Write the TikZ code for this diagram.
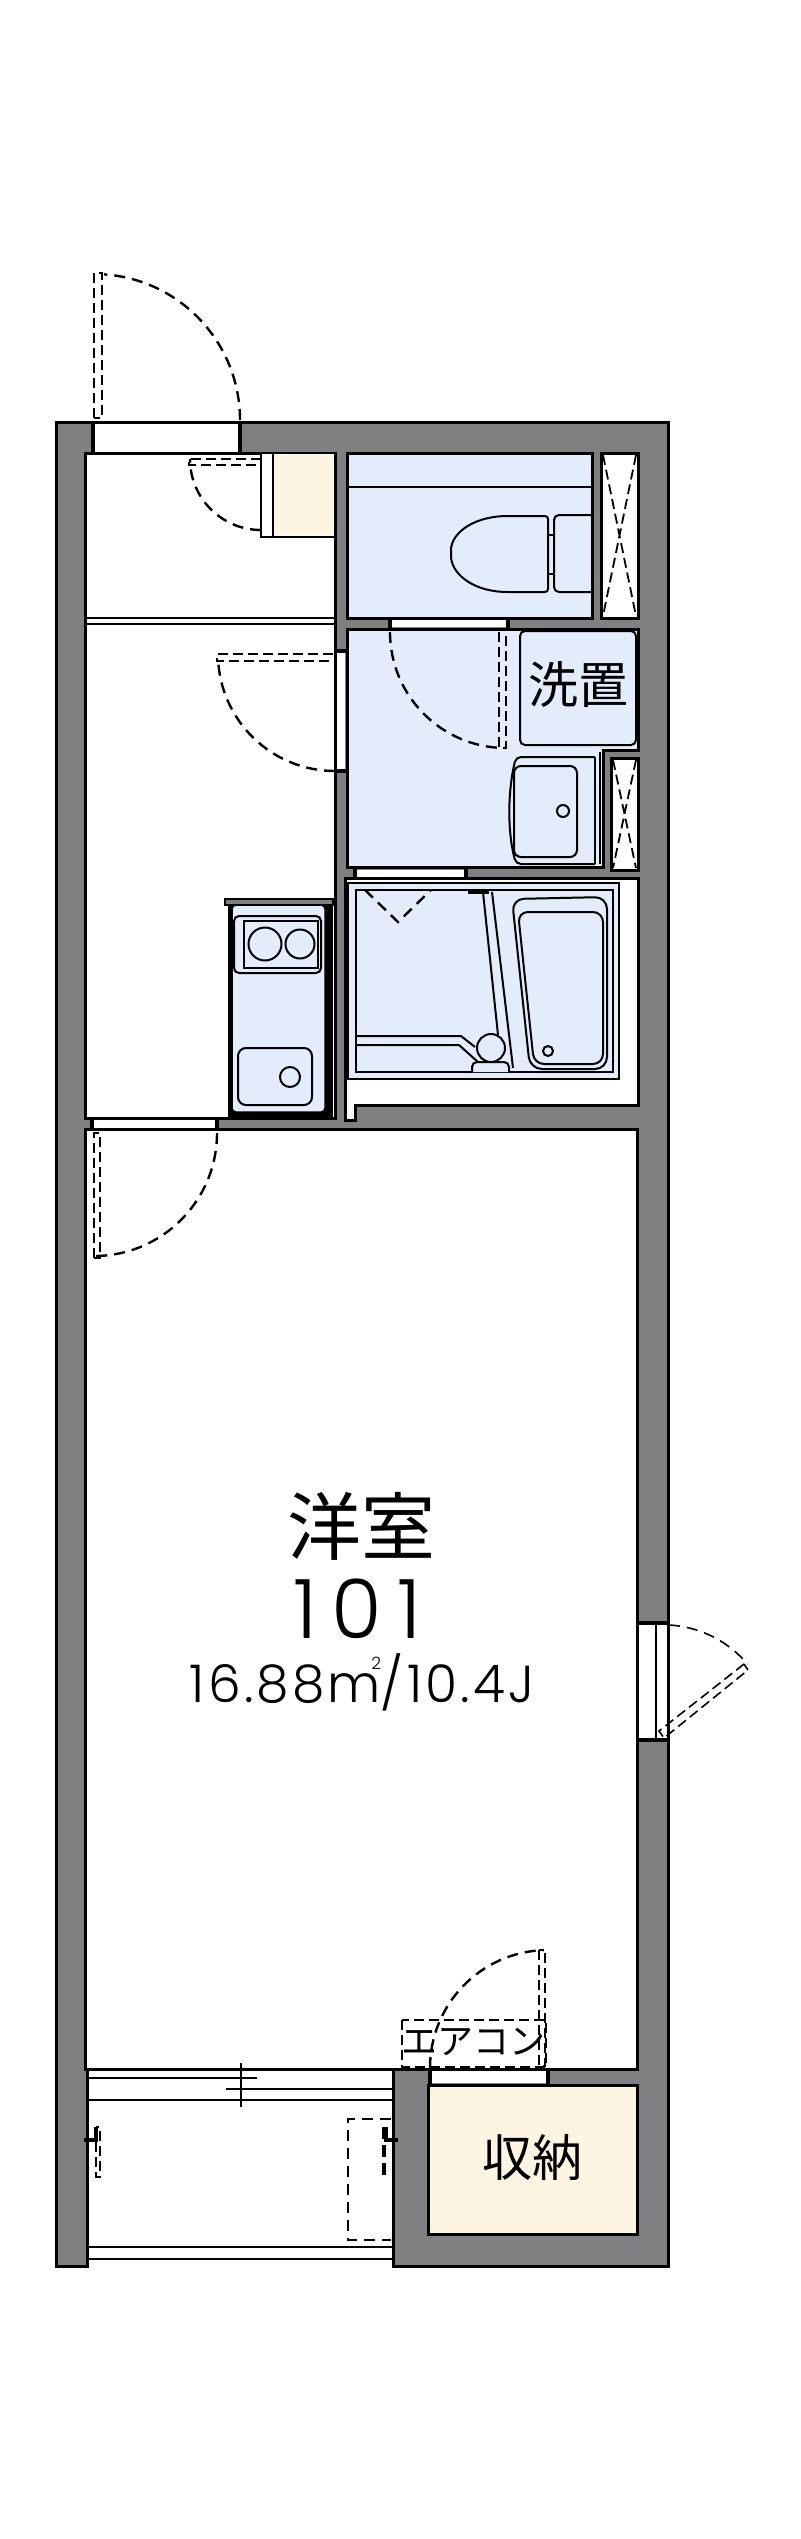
\documentclass[tikz,border=0pt]{standalone}
\usepackage{fontspec}
\setmainfont{Poppins Light}
\newfontfamily\cjkfont{Noto Sans CJK JP}
\definecolor{wallgray}{HTML}{808083}
\definecolor{wetblue}{HTML}{E2ECFB}
\definecolor{storecream}{HTML}{FEF4E2}
\tikzset{
        wall/.style={fill=wallgray, draw=black, line width=3pt, line join=miter},
        room/.style={fill=white, draw=black, line width=3pt},
        wetroom/.style={fill=wetblue, draw=black, line width=3pt},
        store/.style={fill=storecream, draw=black, line width=3pt},
        opening/.style={fill=white, draw=none},
        thin/.style={draw=black, line width=2pt},
        fixture/.style={draw=black, line width=2pt, rounded corners=5pt},
        swing/.style={draw=black, line width=2.4pt, dash pattern=on 11pt off 7pt},
        leaf/.style={draw=black, line width=2.2pt, dash pattern=on 10pt off 5pt},
        jamb/.style={draw=black, line width=4pt},
        label/.style={inner sep=0pt, font=\cjkfont}
          }
\begin{document}
\begin{tikzpicture}[x=1pt,y=-1pt]
        \useasboundingbox (0,0) rectangle (800,2539);
        % outer wall
        \draw[wall] (56,422) -- (668,422) -- (668,2266) -- (393,2266) -- (393,2069) -- (87,2069) -- (87,2266) -- (56,2266) -- cycle;
        \fill[white] (89,2071) rectangle (391,2266);
        \draw[thin] (87,2247) -- (393,2247) (87,2259) -- (393,2259) (89,2100) -- (393,2100);
        % rooms
        \draw[room] (85,453) rectangle (335,1118);
        \draw[room] (85,1129) rectangle (637,2069);
        \draw[wetroom] (347,453) rectangle (592,618);
        \draw[room] (601,453) rectangle (638,618);
        \draw[wetroom] (347,629) -- (638,629) -- (638,750) -- (603,750) -- (603,867) -- (347,867) -- cycle;
        \draw[room] (611,758) rectangle (638,870);
        \draw[room] (345,878) -- (638,878) -- (638,1105) -- (355,1105) -- (355,1120) -- (345,1120) -- cycle;
        \draw[store] (428,2085) rectangle (637,2234);
        % hall
        \draw[thin] (85,618) -- (335,618) (85,624) -- (335,624);
        \draw[room, line width=2.5pt] (261,453) rectangle (335,537);
        \fill[storecream] (273,455) rectangle (333,535);
        \draw[thin] (273,453) -- (273,537);
        % openings
        \fill[opening] (94,424) rectangle (240,452);
        \draw[thin] (94,453) -- (240,453);
        \draw[jamb] (93,422) -- (93,453) (240,422) -- (240,453);
        \fill[opening] (92,1120) rectangle (217,1128);
        \draw[jamb] (92,1118) -- (92,1129) (217,1118) -- (217,1129);
        \draw[thin] (92,1118) -- (217,1118) (92,1129) -- (217,1129);
        \fill[opening] (337,653) rectangle (345,770);
        \draw[jamb] (335,651) -- (347,651) (335,771) -- (347,771);
        \fill[opening] (390,620) rectangle (508,627);
        \draw[jamb] (390,618) -- (390,630) (508,618) -- (508,630);
        \fill[opening] (356,870) rectangle (466,877);
        \draw[jamb] (466,867) -- (466,878) (355,867) -- (355,878);
        \fill[opening] (430,2071) rectangle (548,2083);
        \draw[thin] (430,2085) -- (548,2085);
        \draw[jamb] (430,2069) -- (430,2085) (548,2069) -- (548,2085);
        \fill[opening] (639,1625) rectangle (667,1740);
        \draw[thin] (656,1625) -- (656,1740) (668,1625) -- (668,1740);
        \draw[jamb] (636,1623) -- (670,1623) (636,1740) -- (670,1740);
        % toilet
        \draw[thin] (347,487) -- (592,487);
        \draw[thin, rounded corners=3pt] (548,516) -- (505,516) .. controls (470,518) and (451,535) .. (451,553) .. controls (451,572) and (470,590) .. (505,592) -- (548,592) -- cycle;
        \draw[fixture] (592,515) -- (554,515) -- (554,592) -- (592,592);
        \draw[thin] (548,535) -- (554,535) (548,574) -- (554,574);
        % ducts
        \foreach \xa/\xb/\ya/\yb in {603/636/455/616,613/636/760/868}{
          \draw[swing, line width=1.8pt, dash pattern=on 10pt off 5pt] (\xa,\ya) -- (\xb,\yb) (\xb,\ya) -- (\xa,\yb);
        }
        % washroom
        \draw[fixture] (520,631) -- (636,631) -- (636,745) -- (520,745) -- cycle;
        \draw[fixture] (595,757) -- (516,757) .. controls (508,790) and (507,830) .. (516,864) -- (595,864);
        \draw[thin] (595,757) -- (595,864) (600,752) -- (600,864);
        \draw[fixture, rounded corners=7pt] (514,766) -- (577,766) -- (577,857) -- (514,857) -- cycle;
        \draw[thin] (563,811) circle (6);
        % unit bath
        \draw[wetroom, line width=2.5pt] (348,883) rectangle (619,1079);
        \draw[thin, line width=2.5pt] (356,890) rectangle (613,1072);
        \draw[swing] (365,890) -- (398,922) -- (431,890);
        \draw[jamb] (468,892) -- (489,892);
        \draw[thin] (483,892) -- (498,1035) (492,892) -- (513,1068);
        \draw[thin] (356,1036) -- (461,1036) -- (475,1047) (356,1045) -- (459,1045) -- (478,1062);
        \draw[thin, fill=wetblue] (491,1048) circle (14);
        \draw[fixture, fill=wetblue] (472,1072) -- (472,1062) -- (509,1062) -- (509,1072);
        \draw[fixture, rounded corners=12pt] (512,899) -- (607,897) -- (607,1069) -- (530,1069) -- cycle;
        \draw[fixture, rounded corners=10pt] (518,912) -- (603,912) -- (603,1064) -- (534,1064) -- cycle;
        \draw[thin] (548,1051) circle (5);
        % kitchen
        \draw[draw=black, fill=wallgray, line width=1.5pt] (225,899) rectangle (333,905);
        \fill[black] (228,905) rectangle (333,1117);
        \draw[fill=wetblue, line width=1.5pt, rounded corners=4pt] (232,905) rectangle (325,1112);
        \draw[fixture, fill=wetblue] (234,916) rectangle (321,973);
        \draw[thin] (244,921) rectangle (318,968);
        \draw[thin] (265,944) circle (16.5) (300,944) circle (14.5);
        \draw[fixture, rounded corners=8pt] (238,1048) rectangle (312,1105);
        \draw[thin] (290,1077) circle (10);
        % doors
        \draw[swing] (240,420) arc[start angle=0, end angle=-86, radius=146];
        \draw[leaf] (94,418) -- (94,273) -- (102,273) -- (102,418) -- cycle;
        \draw[swing] (261,530) arc[start angle=90, end angle=180, radius=71];
        \draw[leaf] (261,459) -- (189,459) -- (189,465) -- (261,465);
        \draw[swing] (335,771) arc[start angle=90, end angle=178, radius=117];
        \draw[leaf] (333,654) -- (217,654) -- (217,661) -- (333,661);
        \draw[swing] (390,632) arc[start angle=180, end angle=90, radius=116];
        \draw[leaf] (499,632) -- (499,748) -- (506,748) -- (506,632);
        \draw[swing] (217,1133) arc[start angle=0, end angle=90, radius=123];
        \draw[leaf] (94,1258) -- (94,1133) -- (100,1133) -- (100,1258) -- cycle;
        \draw[swing, line width=1.6pt] (669,1625) arc[start angle=-87, end angle=-40, radius=110];
        \draw[leaf, line width=1.6pt] (744,1664) -- (659,1731) -- (664,1738) -- (748,1670) -- cycle;
        \draw[swing] (430,2068) arc[start angle=180, end angle=268, radius=118];
        \draw[leaf] (539,1950) rectangle (545,2066);
        \draw[leaf, line width=1.8pt] (402,2020) rectangle (546,2067);
        % balcony
        \draw[thin] (89,2078) -- (257,2078) (226,2089) -- (393,2089);
        \draw[thin] (241,2063) -- (241,2107);
        \draw[jamb] (84,2140) -- (96,2140) -- (96,2127);
        \draw[leaf] (96,2127) rectangle (100,2177);
        \draw[swing] (391,2119) -- (348,2119) -- (348,2240) -- (391,2240);
        \draw[jamb, dash pattern=on 12pt off 6pt] (384,2127) -- (384,2177);
        \draw[jamb] (398,2140) -- (386,2140) -- (386,2127);
        % labels
        \node[label, font=\cjkfont\fontsize{50}{50}\selectfont] (wash) at (578,685) {洗置};
        \node[label, font=\cjkfont\fontsize{74}{74}\selectfont] (western) at (361,1526) {洋室};
        \node[inner sep=0pt, font=\fontsize{82}{82}\selectfont\addfontfeatures{LetterSpace=18}] (unit) at (357,1609) {101};
        \node[inner sep=0pt, font=\fontsize{52}{52}\selectfont\addfontfeatures{LetterSpace=6}] (area) at (362,1682) {16.88m\llap{\raisebox{0.62em}{\fontsize{17}{17}\selectfont 2}}/10.4J};
        \node[label, font=\cjkfont\fontsize{36}{36}\selectfont] (aircon) at (473,2042) {エアコン};
        \node[label, font=\cjkfont\fontsize{50}{50}\selectfont] (closet) at (532,2157) {収納};
      \end{tikzpicture}
\end{document}
